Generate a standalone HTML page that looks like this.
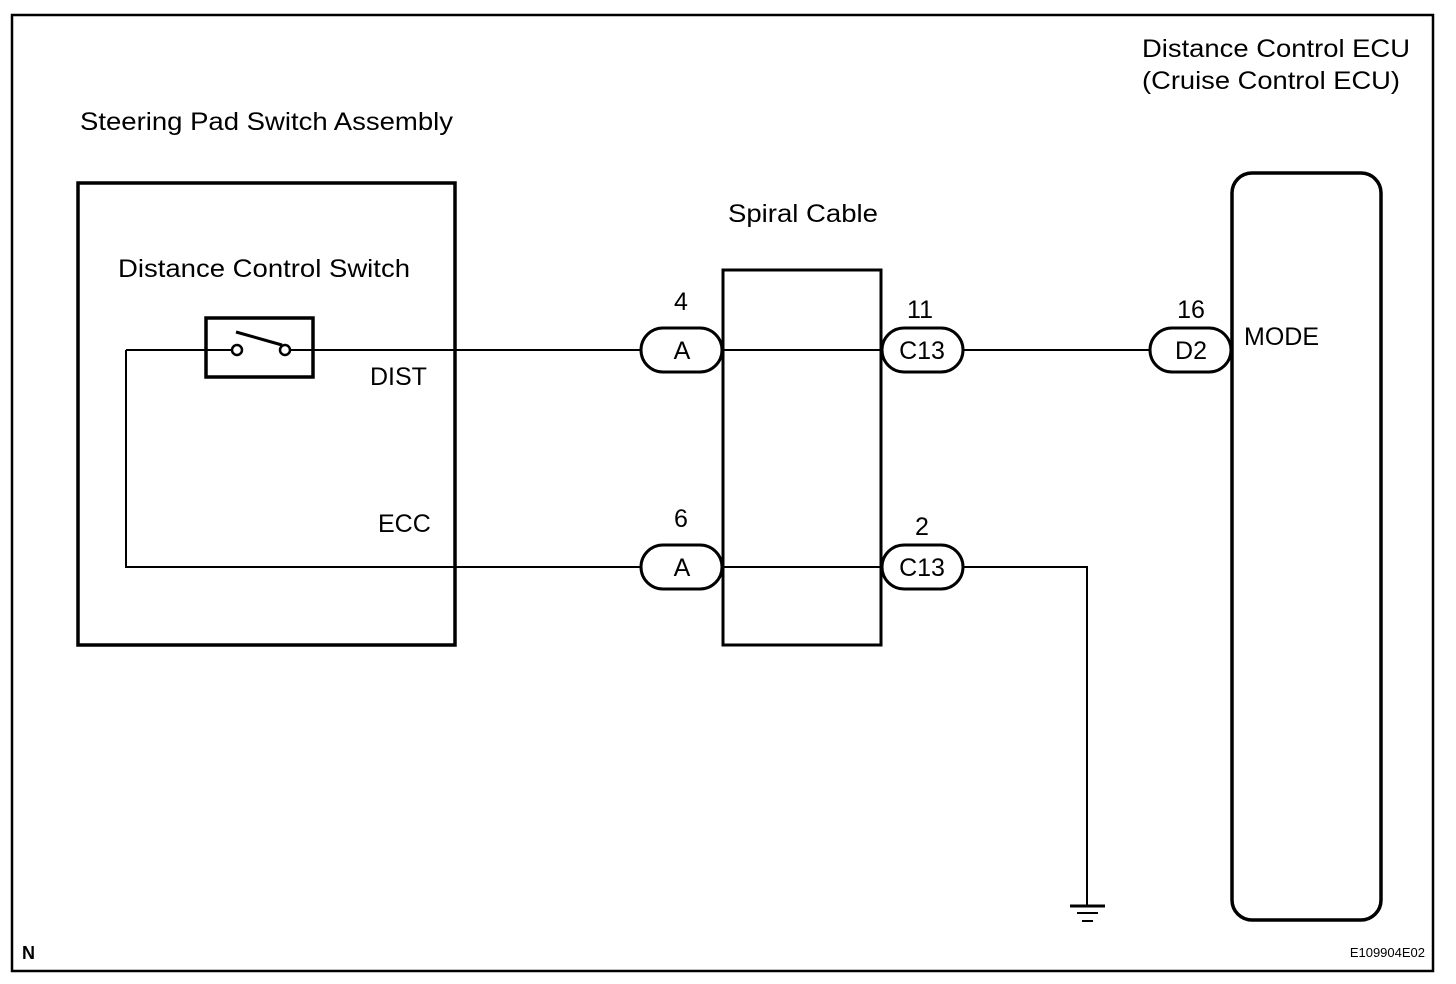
<!DOCTYPE html>
<html><head><style>html,body{margin:0;padding:0;background:#fff}svg{display:block}</style></head>
<body>
<svg width="1456" height="984" viewBox="0 0 1456 984" xmlns="http://www.w3.org/2000/svg" font-family="Liberation Sans, Arial, sans-serif" fill="#000">
<rect x="0" y="0" width="1456" height="984" fill="#fff"/>
<rect x="12" y="15" width="1421" height="956" fill="none" stroke="#000" stroke-width="2.5"/>
<g font-size="25">
<text x="80" y="130" textLength="373" lengthAdjust="spacingAndGlyphs">Steering Pad Switch Assembly</text>
<text x="1142" y="57" textLength="268" lengthAdjust="spacingAndGlyphs">Distance Control ECU</text>
<text x="1142" y="89" textLength="258" lengthAdjust="spacingAndGlyphs">(Cruise Control ECU)</text>
<text x="728" y="222" textLength="150" lengthAdjust="spacingAndGlyphs">Spiral Cable</text>
<text x="118" y="277" textLength="292" lengthAdjust="spacingAndGlyphs">Distance Control Switch</text>
<text x="370" y="385">DIST</text>
<text x="378" y="532">ECC</text>
<text x="1244" y="345">MODE</text>
<text x="681" y="310" text-anchor="middle">4</text>
<text x="681" y="527" text-anchor="middle">6</text>
<text x="920" y="318" text-anchor="middle">11</text>
<text x="922" y="535" text-anchor="middle">2</text>
<text x="1191" y="318" text-anchor="middle">16</text>
<text x="682" y="359" text-anchor="middle">A</text>
<text x="682" y="576" text-anchor="middle">A</text>
<text x="922" y="359" text-anchor="middle">C13</text>
<text x="922" y="576" text-anchor="middle">C13</text>
<text x="1191" y="359" text-anchor="middle">D2</text>
</g>
<text x="22" y="959" font-size="18" font-weight="bold">N</text>
<text x="1425" y="957" font-size="13" text-anchor="end">E109904E02</text>
<g fill="none" stroke="#000">
<rect x="78" y="183" width="377" height="462" stroke-width="3.5"/>
<rect x="723" y="270" width="158" height="375" stroke-width="3"/>
<rect x="1232" y="173" width="149" height="747" rx="20" stroke-width="3.5"/>
<rect x="206" y="318" width="107" height="59" stroke-width="3.5"/>
<g stroke-width="2">
<polyline points="126,350 232,350"/>
<line x1="290" y1="350" x2="641" y2="350"/>
<line x1="722" y1="350" x2="882" y2="350"/>
<line x1="963" y1="350" x2="1150" y2="350"/>
<polyline points="126,350 126,567 641,567"/>
<line x1="722" y1="567" x2="882" y2="567"/>
<polyline points="963,567 1087,567 1087,905"/>
</g>
<circle cx="237" cy="350" r="5" stroke-width="2.5" fill="#fff"/>
<circle cx="285" cy="350" r="5" stroke-width="2.5" fill="#fff"/>
<line x1="236" y1="332" x2="282" y2="345" stroke-width="3"/>
<g stroke-width="3" fill="#fff">
<rect x="641" y="328" width="81" height="44" rx="22"/>
<rect x="641" y="545" width="81" height="44" rx="22"/>
<rect x="882" y="328" width="81" height="44" rx="22"/>
<rect x="882" y="545" width="81" height="44" rx="22"/>
<rect x="1150" y="328" width="81" height="44" rx="22"/>
</g>
<line x1="1070" y1="906" x2="1105" y2="906" stroke-width="3"/>
<line x1="1077" y1="913" x2="1098" y2="913" stroke-width="2"/>
<line x1="1082" y1="921" x2="1093" y2="921" stroke-width="2"/>
</g>
<g font-size="25">
<text x="682" y="359" text-anchor="middle">A</text>
<text x="682" y="576" text-anchor="middle">A</text>
<text x="922" y="359" text-anchor="middle">C13</text>
<text x="922" y="576" text-anchor="middle">C13</text>
<text x="1191" y="359" text-anchor="middle">D2</text>
</g>
</svg>
</body></html>
